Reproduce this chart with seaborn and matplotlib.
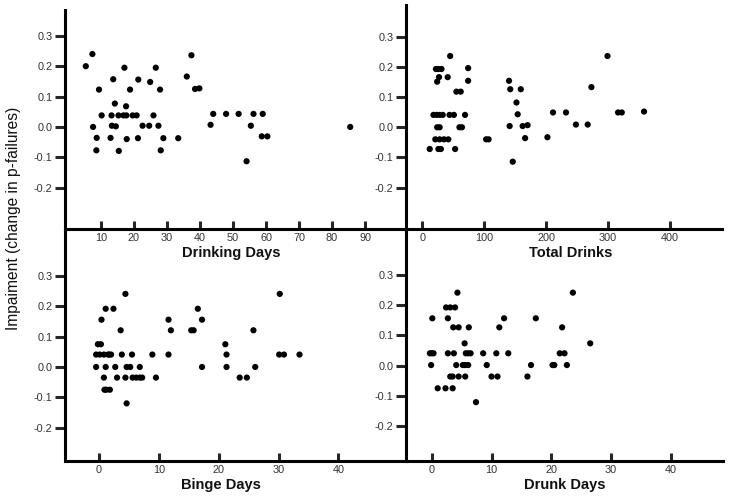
import matplotlib
matplotlib.use("Agg")
import matplotlib.pyplot as plt
import numpy as np
import pandas as pd
import seaborn as sns

### Data (x = exposure, y = impairment)
drinking_days_x = [5.4, 7.4, 7.6, 8.7, 8.6, 9.4, 10.2, 13.7, 13.2, 13.3, 14.5, 14.2, 15.3, 15.4,
                   12.9, 17.1, 17.6, 17.7, 17.8, 16.8, 18.8, 19.6, 20.8, 21.3, 21.2, 22.6, 24.6,
                   24.9, 25.9, 26.6, 27.4, 27.9, 28.1, 28.9, 33.4, 36.0, 37.4, 38.5, 39.8, 43.2,
                   44.0, 47.9, 51.7, 55.4, 54.1, 56.2, 59.0, 58.7, 60.4, 85.5]
drinking_days_y = [0.20, 0.24, 0.0, -0.036, -0.077, 0.123, 0.038, 0.157, 0.038, 0.004, 0.002,
                   0.077, 0.038, -0.079, -0.036, 0.195, 0.068, 0.038, -0.04, 0.038, 0.123, 0.038,
                   0.038, 0.156, -0.037, 0.004, 0.004, 0.148, 0.038, 0.195, 0.004, 0.123, -0.077,
                   -0.037, -0.037, 0.166, 0.236, 0.125, 0.127, 0.007, 0.043, 0.043, 0.043, 0.004,
                   -0.113, 0.043, 0.043, -0.031, -0.031, 0.0]

total_drinks_x = [12, 18, 23, 28, 33, 24, 28, 21, 28, 35, 42, 26, 30, 53, 22, 26, 31, 24, 27,
                  41, 45, 44, 51, 69, 55, 62, 60, 64, 74, 74, 103, 107, 140, 142, 141, 146, 152,
                  154, 159, 162, 166, 170, 202, 211, 232, 248, 267, 273, 299, 316, 322, 358]
total_drinks_y = [-0.072, 0.041, 0.041, 0.041, 0.041, 0.0, 0.0, -0.04, -0.04, -0.04, -0.04,
                  -0.072, -0.072, -0.072, 0.193, 0.193, 0.193, 0.151, 0.166, 0.166, 0.236, 0.041,
                  0.041, 0.041, 0.118, 0.118, 0.0, 0.0, 0.196, 0.154, -0.04, -0.04, 0.154, 0.126,
                  0.004, -0.114, 0.082, 0.043, 0.126, 0.004, -0.036, 0.007, -0.033, 0.049, 0.049,
                  0.009, 0.009, 0.133, 0.236, 0.049, 0.049, 0.052]

binge_days_x = [-0.5, 0.1, 0.8, 1.5, 1.7, 2.0, 3.8, 5.5, 8.9, 11.6, 21.3, 30.1, 30.9, 33.5,
                -0.5, 1.1, 2.7, 4.6, 5.2, 6.8, 17.2, 21.3, 26.1,
                0.8, 3.0, 4.4, 5.6, 6.2, 6.8, 7.2, 9.5, 23.5, 24.7,
                0.9, 1.2, 1.8, 4.6,
                0.4, 11.6, 17.2, 1.1, 2.4, 16.5, 4.4, 30.2,
                3.6, 12.0, 15.4, 15.8, 25.8, -0.2, 0.3, 21.1]
binge_days_y = [0.041] * 14 + [0.0] * 9 + [-0.035] * 10 + [-0.075] * 3 + [-0.12] + \
               [0.156] * 3 + [0.192] * 3 + [0.241] * 2 + [0.121] * 5 + [0.075] * 3

drunk_days_x = [0.1, 2.7, 12.1, 17.4, 2.4, 3.1, 3.9, 4.3, 23.6, 3.6, 4.5, 6.2, 11.3, 21.8,
                5.5, 26.5,
                -0.3, 0.0, 0.3, 2.7, 3.7, 5.7, 6.1, 6.5, 8.6, 10.8, 12.8, 21.4, 22.2,
                -0.1, 4.1, 5.2, 5.6, 6.1, 9.2, 16.6, 20.2, 20.5, 22.6,
                3.1, 3.5, 4.5, 5.6, 10.0, 11.0, 16.0,
                1.0, 2.3, 3.5, 7.4]
drunk_days_y = [0.157] * 4 + [0.193] * 3 + [0.242] * 2 + [0.127] * 5 + [0.074] * 2 + \
               [0.041] * 13 + [0.002] * 10 + [-0.036] * 7 + [-0.075] * 3 + [-0.121]

y_ticks = [-0.2, -0.1, 0.0, 0.1, 0.2, 0.3]
y_tick_labels = ["-0.2", "-0.1", "0.0", "0.1", "0.2", "0.3"]

panels = [
    # name, x, y, xticks, (left, right, top, bottom) in px, xlim, ylim, label x position
    ("Drinking Days", drinking_days_x, drinking_days_y, [10, 20, 30, 40, 50, 60, 70, 80, 90],
     (65, 406, 10, 229), (-0.9, 102.4), (-0.336, 0.385), 0.487),
    ("Total Drinks", total_drinks_x, total_drinks_y, [0, 100, 200, 300, 400],
     (406, 722, 5, 229), (-26.3, 483.8), (-0.337, 0.405), 0.522),
    ("Binge Days", binge_days_x, binge_days_y, [0, 10, 20, 30, 40],
     (65, 406, 229, 461), (-5.7, 51.3), (-0.31, 0.455), 0.457),
    ("Drunk Days", drunk_days_x, drunk_days_y, [0, 10, 20, 30, 40],
     (406, 723, 229, 461), (-4.3, 48.7), (-0.316, 0.453), 0.502),
]

sns.set_style("ticks")
plt.rcParams['font.family'] = ['Liberation Sans', 'DejaVu Sans']

W, H = 729, 499
fig = plt.figure(figsize=(W / 100, H / 100), dpi=100)

for name, xs, ys, xticks, (l, r, t, b), xlim, ylim, lab_x in panels:
    ax = fig.add_axes([l / W, 1 - b / H, (r - l) / W, (b - t) / H])
    ax.patch.set_alpha(0)
    df = pd.DataFrame({"x": xs, "y": ys})
    sns.scatterplot(data=df, x="x", y="y", ax=ax, color="black", s=20,
                    edgecolor="none", linewidth=0, clip_on=False)
    ax.set_xlim(*xlim)
    ax.set_ylim(*ylim)
    sns.despine(ax=ax)
    for side in ["left", "bottom"]:
        ax.spines[side].set_linewidth(2.2)
        ax.spines[side].set_color("black")
    ax.set_yticks(y_ticks)
    ax.set_yticklabels(y_tick_labels)
    ax.set_xticks(xticks)
    ax.set_xticklabels([str(v) for v in xticks])
    ax.tick_params(axis="y", direction="out", length=7, width=2.2, pad=2,
                   labelsize=7.8, labelcolor="#333333")
    ax.tick_params(axis="x", direction="in", length=6, width=2.2, pad=3,
                   labelsize=7.8, labelcolor="#333333")
    ax.set_ylabel("")
    ax.set_xlabel(name, fontsize=10.5, fontweight="bold", color="#111111")
    ax.xaxis.label.set_va("center")
    ax.xaxis.set_label_coords(lab_x, -24 / (b - t))

fig.text(0.018, 1 - 218 / H, "Impaiment (change in p-failures)", rotation=90,
         ha="center", va="center", fontsize=11.2, color="#111111")

fig.savefig("out.png", dpi=100)
